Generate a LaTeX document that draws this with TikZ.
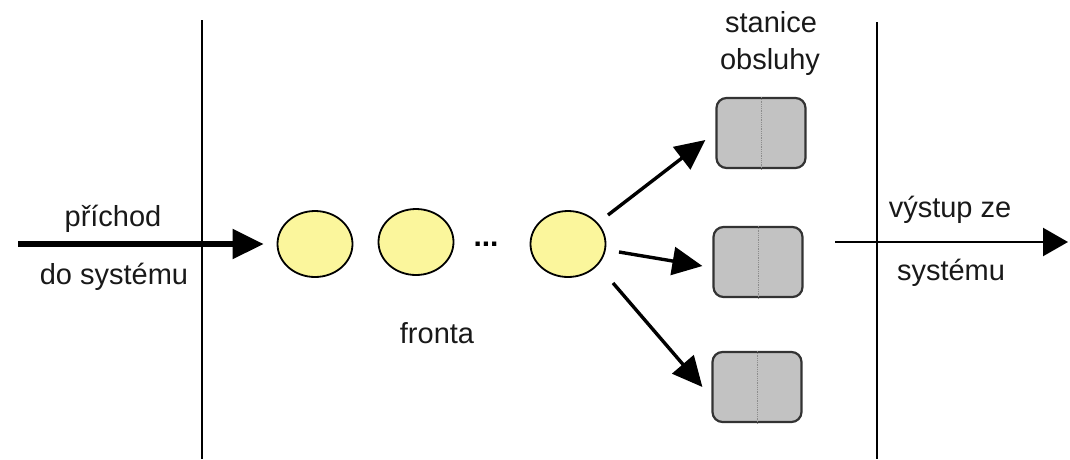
\documentclass[tikz,border=0pt]{standalone}
\usepackage{fontspec}
\setmainfont{Liberation Sans}
\usetikzlibrary{arrows.meta,shapes.geometric}
\definecolor{qyellow}{HTML}{FBF69C}
\definecolor{boxgray}{HTML}{C2C2C2}
\definecolor{boxedge}{HTML}{333333}
\begin{document}
\begin{tikzpicture}[x=1pt,y=-1pt,
  lbl/.style={font=\fontsize{29}{32}\selectfont, anchor=base, inner sep=0pt, text=black!90},
  queue/.style={ellipse, draw=black, line width=1.8pt, fill=qyellow, minimum width=75pt, minimum height=66pt, inner sep=0pt},
  station/.style={draw=boxedge, line width=2.2pt, fill=boxgray, rounded corners=10pt, minimum width=89pt, minimum height=70pt, inner sep=0pt},
  sysline/.style={line width=2.2pt, black},
  bigarrow/.style={line width=5.5pt, -{Triangle[length=31pt, width=29pt]}},
  outarrow/.style={line width=2.4pt, -{Triangle[length=25pt, width=28pt]}},
  srvarrow/.style={line width=3.4pt, -{Triangle[length=30pt, width=28pt]}}]
\useasboundingbox (0,0) rectangle (1070,459);
% system boundary lines
\coordinate (b1t) at (202,20);
\coordinate (b1b) at (202,459);
\coordinate (b2t) at (877,22);
\coordinate (b2b) at (877,459);
\draw[sysline] (b1t) -- (b1b);
\draw[sysline] (b2t) -- (b2b);
% queue
\node[queue] (q1) at (315,244) {};
\node[queue] (q2) at (416,242) {};
\node[font=\fontsize{30}{32}\selectfont\bfseries, inner sep=0pt, anchor=base] (dots) at (486,246) {...};
\node[queue] (q3) at (568,244) {};
% stations
\node[station] (s1) at (761,133) {};
\node[station] (s2) at (758,262) {};
\node[station] (s3) at (757,387) {};
\foreach \s in {s1,s2,s3}{
  \draw[black!45, line width=0.8pt, densely dotted] (\s.north) -- (\s.south);
}
% input arrow
\coordinate (in) at (18,244);
\draw[bigarrow] (in) -- ([xshift=-13pt]q1.west);
% service arrows
\coordinate (a1) at (608,215);
\coordinate (a2) at (619,252);
\coordinate (a3) at (613,283);
\draw[srvarrow] (a1) -- ([xshift=-10pt,yshift=-7pt]s1.west);
\draw[srvarrow] (a2) -- ([xshift=-10pt,yshift=-4pt]s2.west);
\draw[srvarrow] (a3) -- ([xshift=-9pt]s3.west);
% output arrow
\coordinate (out) at (1068,242);
\coordinate (outs) at (835,242);
\draw[outarrow] (outs) -- (out);
% labels
\node[lbl] (t1) at (113,226) {příchod};
\node[lbl] (t2) at (114,284) {do systému};
\node[lbl] (t3) at (437,343) {fronta};
\node[lbl] (t4) at (771,32) {stanice};
\node[lbl] (t5) at (770,69) {obsluhy};
\node[lbl] (t6) at (950,217) {výstup ze};
\node[lbl] (t7) at (951,280) {systému};
\end{tikzpicture}
\end{document}
